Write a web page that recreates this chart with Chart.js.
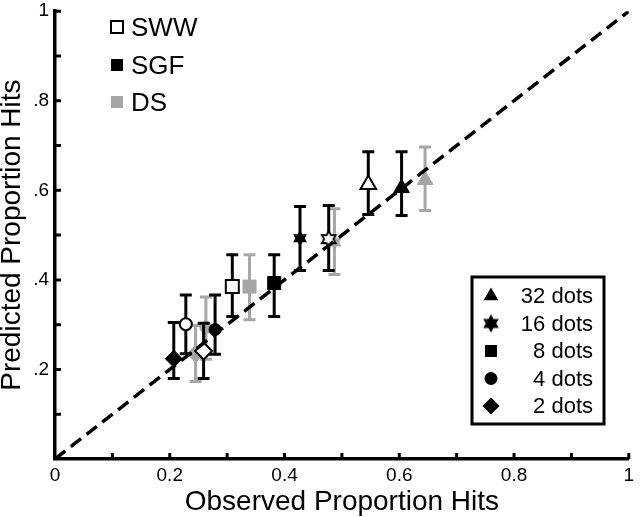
<!DOCTYPE html>
<html>
<head>
<meta charset="utf-8">
<script src="https://cdn.jsdelivr.net/npm/chart.js@4"></script>
<style>
  html, body { margin: 0; padding: 0; background: #fff; }
</style>
</head>
<body>
<canvas id="chart" width="640" height="517"></canvas>
<script>
// values; each group is ordered 32, 16, 8, 4, 2 dots
const dotLabels = ['32 dots', '16 dots', '8 dots', '4 dots', '2 dots'];
const groupNames = ['SWW', 'SGF', 'DS'];

const swwObserved  = [0.546, 0.477, 0.309, 0.228, 0.259];
const swwPredicted = [0.613, 0.491, 0.385, 0.301, 0.241];
const swwLow       = [0.546, 0.421, 0.318, 0.235, 0.180];
const swwHigh      = [0.686, 0.566, 0.456, 0.366, 0.303];

const sgfObserved  = [0.604, 0.427, 0.382, 0.279, 0.207];
const sgfPredicted = [0.605, 0.493, 0.393, 0.289, 0.224];
const sgfLow       = [0.544, 0.421, 0.318, 0.234, 0.180];
const sgfHigh      = [0.686, 0.564, 0.456, 0.366, 0.305];

const dsObserved   = [0.645, 0.487, 0.339, 0.263, 0.245];
const dsPredicted  = [0.623, 0.484, 0.385, 0.294, 0.235];
const dsLow        = [0.555, 0.412, 0.311, 0.223, 0.173];
const dsHigh       = [0.697, 0.559, 0.456, 0.362, 0.298];

const identityLine = [0, 1];

const GRAY = '#a6a6a6';
const FONT = "'Liberation Sans', Arial, Helvetica, sans-serif";

// six-pointed star, used as a point image
function hexStar(fill, stroke, r){
  const s = Math.ceil(2 * r + 4);
  const c = document.createElement('canvas');
  c.width = c.height = s;
  const g = c.getContext('2d');
  g.translate(s / 2, s / 2);
  g.beginPath();
  for (let i = 0; i < 12; i++) {
    const a = Math.PI / 6 * i - Math.PI / 2;
    const rr = i % 2 ? r / Math.sqrt(3) : r;
    g.lineTo(rr * Math.cos(a), rr * Math.sin(a));
  }
  g.closePath();
  g.fillStyle = fill; g.fill();
  if (stroke) { g.lineWidth = 1.8; g.strokeStyle = stroke; g.stroke(); }
  return c;
}

const styles = (star) => ['triangle', star, 'rect', 'circle', 'rectRot'];
const radii = [9, 8, 9.2, 6, 8.5];

const toPoints = (xs, ys) => xs.map((x, i) => ({ x, y: ys[i] }));

function groupDataset(name, xs, ys, lo, hi, fill, border, bw, star){
  return {
    label: name,
    data: toPoints(xs, ys),
    errLow: lo, errHigh: hi, errColor: border,
    pointStyle: styles(star),
    pointRadius: radii,
    pointHoverRadius: radii,
    backgroundColor: fill,
    borderColor: border,
    pointBorderWidth: bw,
    showLine: false
  };
}

const errorBars = {
  id: 'errorBars',
  beforeDatasetDraw(chart, args){
    const ds = chart.data.datasets[args.index];
    if (!ds.errLow) return;
    const { ctx, scales: { x, y } } = chart;
    ctx.save();
    ctx.strokeStyle = ds.errColor;
    ctx.lineWidth = 3;
    ds.data.forEach((p, i) => {
      const px = x.getPixelForValue(p.x);
      const y1 = y.getPixelForValue(ds.errLow[i]);
      const y2 = y.getPixelForValue(ds.errHigh[i]);
      ctx.beginPath();
      ctx.moveTo(px, y1); ctx.lineTo(px, y2);
      ctx.moveTo(px - 6, y1); ctx.lineTo(px + 6, y1);
      ctx.moveTo(px - 6, y2); ctx.lineTo(px + 6, y2);
      ctx.stroke();
    });
    ctx.restore();
  }
};

// short tick marks pointing into the plot
const innerTicks = {
  id: 'innerTicks',
  afterDraw(chart){
    const { ctx, scales: { x, y }, chartArea: a } = chart;
    ctx.save();
    ctx.strokeStyle = '#000';
    ctx.lineWidth = 3;
    ctx.beginPath();
    x.ticks.forEach(t => { if (t.value > 0) { const px = x.getPixelForValue(t.value); ctx.moveTo(px, a.bottom); ctx.lineTo(px, a.bottom - 6); } });
    y.ticks.forEach(t => { if (t.value > 0) { const py = y.getPixelForValue(t.value); ctx.moveTo(a.left, py); ctx.lineTo(a.left + 6, py); } });
    ctx.stroke();
    ctx.restore();
  }
};

function marker(ctx, shape, cx, cy, fill){
  ctx.beginPath();
  if (shape === 'triangle') { const r = 8.5; for (let k = 0; k < 3; k++) { const a = -Math.PI / 2 + k * 2 * Math.PI / 3; ctx.lineTo(cx + r * Math.cos(a), cy + r * Math.sin(a)); } ctx.closePath(); }
  else if (shape === 'rect') ctx.rect(cx - 6, cy - 6, 12, 12);
  else if (shape === 'circle') ctx.arc(cx, cy, 6.5, 0, Math.PI * 2);
  else if (shape === 'rectRot') { ctx.moveTo(cx - 8.5, cy); ctx.lineTo(cx, cy - 8.5); ctx.lineTo(cx + 8.5, cy); ctx.lineTo(cx, cy + 8.5); ctx.closePath(); }
  ctx.fillStyle = fill; ctx.fill();
}

const legends = {
  id: 'legends',
  afterDraw(chart){
    const ctx = chart.ctx;
    ctx.save();
    // group legend, top left
    const fills = ['#fff', '#000', GRAY];
    const strokes = ['#000', null, null];
    const rowsY = [27, 65, 102];
    ctx.font = '26px ' + FONT;
    ctx.textBaseline = 'middle';
    ctx.textAlign = 'left';
    groupNames.forEach((n, i) => {
      ctx.beginPath();
      ctx.rect(111, rowsY[i] - 6, 12, 12);
      ctx.fillStyle = fills[i]; ctx.fill();
      if (strokes[i]) { ctx.lineWidth = 2; ctx.strokeStyle = strokes[i]; ctx.stroke(); }
      ctx.fillStyle = '#000';
      ctx.fillText(n, 131, rowsY[i] + 2);
    });
    // shape legend, boxed
    ctx.lineWidth = 3;
    ctx.strokeStyle = '#000';
    ctx.strokeRect(472, 277, 132, 147);
    const shapes = ['triangle', 'star', 'rect', 'circle', 'rectRot'];
    const star = hexStar('#000', null, 9);
    ctx.font = '22px ' + FONT;
    ctx.textAlign = 'right';
    dotLabels.forEach((t, i) => {
      const cy = 296 + i * 27.5;
      if (shapes[i] === 'star') ctx.drawImage(star, 491 - star.width / 2, cy - star.height / 2);
      else marker(ctx, shapes[i], 491, cy, '#000');
      ctx.fillStyle = '#000';
      ctx.fillText(t, 593, cy + 1);
    });
    ctx.restore();
  }
};

new Chart(document.getElementById('chart'), {
  type: 'scatter',
  data: {
    datasets: [
      {
        type: 'line',
        label: 'identity',
        data: toPoints(identityLine, identityLine),
        borderColor: '#000',
        borderWidth: 3.5,
        borderDash: [13, 7],
        pointRadius: 0,
        fill: false
      },
      groupDataset('SWW', swwObserved, swwPredicted, swwLow, swwHigh, '#fff', '#000', 2, hexStar('#fff', '#000', 8)),
      groupDataset('SGF', sgfObserved, sgfPredicted, sgfLow, sgfHigh, '#000', '#000', 1, hexStar('#000', null, 8)),
      groupDataset('DS', dsObserved, dsPredicted, dsLow, dsHigh, GRAY, GRAY, 1, hexStar(GRAY, null, 8))
    ]
  },
  options: {
    responsive: false,
    animation: false,
    layout: { padding: { top: 3, right: 3, left: 0, bottom: 0 } },
    plugins: { legend: { display: false }, tooltip: { enabled: false } },
    scales: {
      x: {
        type: 'linear', min: 0, max: 1,
        border: { display: true, color: '#000', width: 3.5 },
        grid: { display: false, drawTicks: false },
        ticks: {
          stepSize: 0.1, padding: 5, color: '#000', maxRotation: 0, autoSkip: false,
          font: { family: FONT, size: 19 },
          callback: v => { const n = Math.round(v * 10); if (n === 0) return '0'; if (n === 10) return '1'; return n % 2 ? '' : (n / 10).toFixed(1); }
        },
        title: { display: true, text: 'Observed Proportion Hits', color: '#000', font: { family: FONT, size: 28, lineHeight: 0.85 }, padding: { top: 0, bottom: 3 } },
        afterFit(s){ s.height = 58; s.paddingLeft = 0; s.paddingRight = 0; }
      },
      y: {
        type: 'linear', min: 0, max: 1,
        border: { display: true, color: '#000', width: 3.5 },
        grid: { display: false, drawTicks: false },
        ticks: {
          stepSize: 0.1, padding: 6, color: '#000', autoSkip: false,
          font: { family: FONT, size: 19 },
          callback: v => { const n = Math.round(v * 10); if (n === 0) return ''; if (n === 10) return '1'; return n % 2 ? '' : '.' + n; }
        },
        title: { display: true, text: 'Predicted Proportion Hits', color: '#000', font: { family: FONT, size: 28, lineHeight: 0.85 }, padding: 0 },
        afterFit(s){ s.width = 55; s.paddingTop = 0; s.paddingBottom = 0; }
      }
    }
  },
  plugins: [errorBars, innerTicks, legends]
});
</script>
</body>
</html>
